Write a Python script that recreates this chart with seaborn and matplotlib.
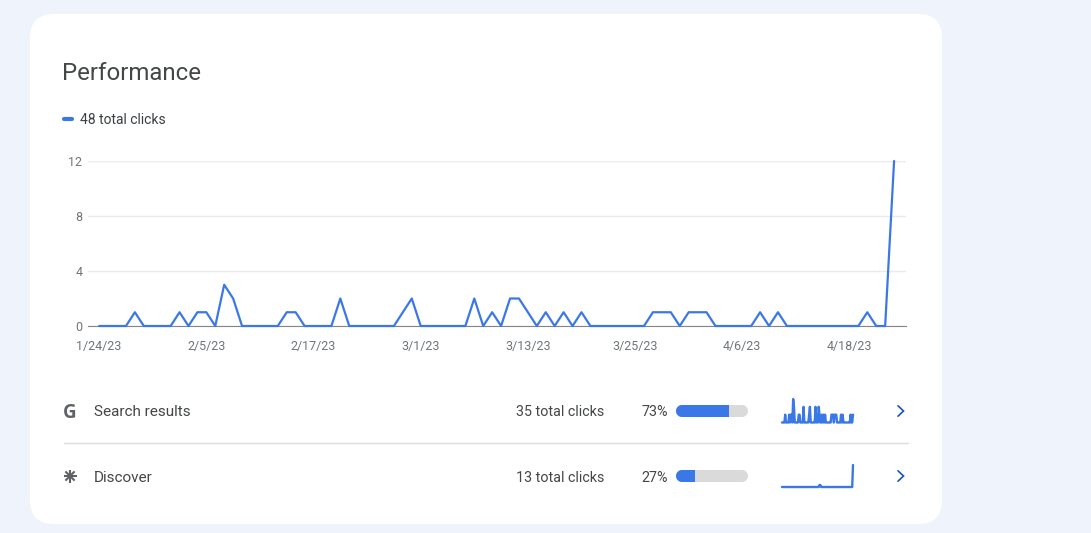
import numpy as np
import pandas as pd
import matplotlib
matplotlib.use("Agg")
import matplotlib.pyplot as plt
from matplotlib.patches import PathPatch
from matplotlib.path import Path
from matplotlib.patches import FancyBboxPatch
from matplotlib.transforms import Affine2D
import seaborn as sns

start_date = "2023-01-24"
total_clicks = [0,0,0,0,1,0,0,0,0,1,0,1,1,0,3,2,0,0,0,0,0,1,1,0,0,0,0,2,0,0,
                0,0,0,0,1,2,0,0,0,0,0,0,2,0,1,0,2,2,1,0,1,0,1,0,1,0,0,0,0,0,
                0,0,1,1,1,0,1,1,1,0,0,0,0,0,1,0,1,0,0,0,0,0,0,0,0,0,1,0,0,12]
search_clicks = [0,0,0,0,1,0,0,0,0,1,0,1,1,0,3,2,0,0,0,0,0,1,1,0,0,0,0,2,0,0,
                 0,0,0,0,1,2,0,0,0,0,0,0,2,0,1,0,2,1,0,0,1,0,1,0,1,0,0,0,0,0,
                 0,0,1,1,1,0,1,1,1,0,0,0,0,0,1,0,1,0,0,0,0,0,0,0,0,0,1,0,0,1]
discover_clicks = [0,0,0,0,0,0,0,0,0,0,0,0,0,0,0,0,0,0,0,0,0,0,0,0,0,0,0,0,0,0,
                   0,0,0,0,0,0,0,0,0,0,0,0,0,0,0,0,0,1,1,0,0,0,0,0,0,0,0,0,0,0,
                   0,0,0,0,0,0,0,0,0,0,0,0,0,0,0,0,0,0,0,0,0,0,0,0,0,0,0,0,0,11]
y_ticks = [0, 4, 8, 12]
x_tick_dates = ["2023-01-24","2023-02-05","2023-02-17","2023-03-01",
                "2023-03-13","2023-03-25","2023-04-06","2023-04-18"]
x_tick_labels = ["1/24/23","2/5/23","2/17/23","3/1/23","3/13/23","3/25/23","4/6/23","4/18/23"]
row_names = ["Search results", "Discover"]
row_clicks = ["35 total clicks", "13 total clicks"]
row_shares = [73, 27]
title = "Performance"
legend_label = "48 total clicks"

BG = "#eff4fc"
BLUE = "#3b78e7"
TEXT = "#444746"
TICK = "#70757a"
W, H = 1091, 533

sns.set_theme(style="white")
plt.rcParams["font.family"] = ["Roboto", "DejaVu Sans"]

dates = pd.date_range(start_date, periods=len(total_clicks))
fig = plt.figure(figsize=(W / 100, H / 100), dpi=100, facecolor=BG)

def px_axes(x0, y0, x1, y1, **kw):
    return fig.add_axes([x0 / W, 1 - y1 / H, (x1 - x0) / W, (y1 - y0) / H], **kw)

def pill_path(w, h):
    r = h / 2
    t = np.linspace(-np.pi / 2, np.pi / 2, 24)
    right = np.c_[w - r + r * np.cos(t), r + r * np.sin(t)]
    left = np.c_[r - r * np.cos(t), r - r * np.sin(t)]
    return Path(np.r_[right, left, right[:1]], closed=True)

# page overlay in pixel coordinates
page = px_axes(0, 0, W, H)
page.set_xlim(0, W); page.set_ylim(H, 0); page.axis("off")
page.add_patch(FancyBboxPatch((30 + 24, 14 + 24), 912 - 48, 510 - 48,
                              boxstyle="round,pad=24,rounding_size=24",
                              fc="white", ec="none"))
page.text(62, 71, title, fontsize=17.3, color=TEXT, va="center_baseline", ha="left")
page.plot([64, 72], [118.5, 118.5], color=BLUE, lw=3, solid_capstyle="round")
page.text(80, 118, legend_label, fontsize=10, color="#3c4043", va="center_baseline")
page.plot([64, 908], [443.2, 443.2], color="#dadce0", lw=1)

row_y = [411, 476]
for name, clicks, share, y in zip(row_names, row_clicks, row_shares, row_y):
    page.text(94, y, name, fontsize=11, color=TEXT, va="center_baseline")
    page.text(604, y, clicks, fontsize=10.3, color=TEXT, va="center_baseline", ha="right")
    page.text(668, y, f"{share}%", fontsize=10.4, color=TEXT, va="center_baseline", ha="right")
    page.plot([898, 903.5, 898], [y - 5.2, y, y + 5.2], color="#1a56b8", lw=1.2,
              solid_joinstyle="miter")
page.text(70, row_y[0], "G", fontsize=13.5, fontweight="bold", color="#5f6368",
          ha="center", va="center_baseline", family="Open Sans")
for ang in [0, 45, 90, 135]:
    dx, dy = 6.5 * np.cos(np.radians(ang)), 6.5 * np.sin(np.radians(ang))
    page.plot([70 - dx, 70 + dx], [row_y[1] - dy, row_y[1] + dy], color="#5f6368",
              lw=1.5, solid_capstyle="butt")

# main chart
ax = px_axes(88, 161, 906, 326)
ax.patch.set_alpha(0)
sns.lineplot(x=dates, y=total_clicks, ax=ax, color=BLUE, lw=1.6, clip_on=False, zorder=3)
ax.set_xlim(dates[0] - pd.Timedelta(hours=30), dates[-1] + pd.Timedelta(hours=32))
ax.set_ylim(0, 12)
ax.set_yticks(y_ticks)
ax.set_xticks(pd.to_datetime(x_tick_dates))
ax.set_xticklabels(x_tick_labels)
ax.set_xlabel(""); ax.set_ylabel("")
ax.yaxis.grid(True, color="#e8eaed", lw=1)
ax.xaxis.grid(False)
ax.set_axisbelow(True)
for s in ["top", "left", "right"]:
    ax.spines[s].set_visible(False)
ax.spines["bottom"].set_color("#80868b")
ax.spines["bottom"].set_linewidth(0.8)
ax.tick_params(axis="x", length=0, pad=10, labelsize=9, labelcolor=TICK)
ax.tick_params(axis="y", length=0, pad=4, labelsize=9, labelcolor=TICK)

# progress bars
for share, (y0, y1) in zip(row_shares, [(405, 417), (470, 482)]):
    b = px_axes(676, y0, 748, y1)
    frame = pd.DataFrame({"row": ["r"], "share": [share], "all": [100]})
    sns.barplot(data=frame, x="all", y="row", ax=b, color="#dadada", width=1,
                saturation=1, linewidth=0)
    sns.barplot(data=frame, x="share", y="row", ax=b, color=BLUE, width=1,
                saturation=1, linewidth=0)
    b.set_xlim(0, 100); b.set_ylim(0.5, -0.5)
    bars = list(b.patches)
    shape = PathPatch(pill_path(72, 12), fc="none", ec="none",
                      transform=Affine2D().translate(676, H - y1))
    b.add_artist(shape)
    shape.set_transform(Affine2D().translate(676, H - y1))
    for p in bars:
        p.set_clip_path(shape)
    b.axis("off")

# sparklines
for series, (y0, y1) in zip([search_clicks, discover_clicks], [(399, 422.5), (465, 487)]):
    s = px_axes(782, y0, 853, y1)
    sns.lineplot(x=dates, y=series, ax=s, color=BLUE, lw=1.7, clip_on=False)
    s.set_xlim(dates[0], dates[-1])
    s.set_ylim(0, max(series))
    s.axis("off")

fig.savefig("out.png", dpi=100, facecolor=BG)
